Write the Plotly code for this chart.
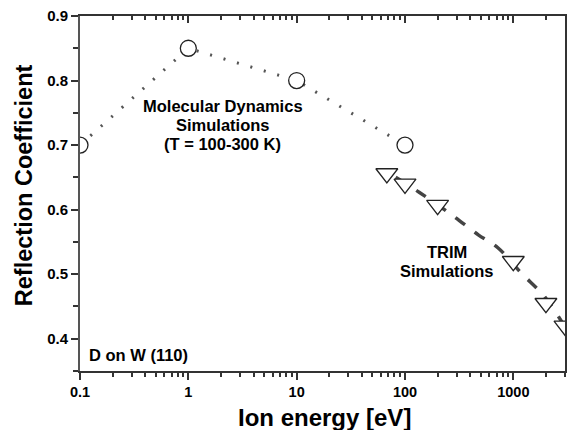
import math
import plotly.graph_objects as go

# MD simulations (open circles, dotted line)
md_energy = [0.1, 1, 10, 100]
md_refl = [0.70, 0.85, 0.80, 0.70]

# TRIM simulations (open down-triangles)
trim_energy = [68, 100, 200, 1000, 2000, 3000]
trim_refl = [0.656, 0.640, 0.607, 0.520, 0.455, 0.420]

# TRIM fit curve (dashed)
fit_energy = [82, 135, 270, 475, 720, 1180, 1950, 3000]
fit_refl = [0.650, 0.627, 0.592, 0.561, 0.541, 0.502, 0.465, 0.418]

x_ticks = [0.1, 1, 10, 100, 1000]
x_ticklabels = ["0.1", "1", "10", "100", "1000"]
y_ticks = [0.4, 0.5, 0.6, 0.7, 0.8, 0.9]
y_ticklabels = ["0.4", "0.5", "0.6", "0.7", "0.8", "0.9"]

x_minor = [m * 10 ** d for d in range(-1, 4) for m in range(2, 10) if m * 10 ** d <= 3000]
y_minor = [0.35, 0.45, 0.55, 0.65, 0.75, 0.85]

md_label = ["Molecular Dynamics", "Simulations", "(T = 100-300 K)"]
trim_label = ["TRIM", "Simulations"]
system_label = "D on W (110)"
x_title = "Ion energy [eV]"
y_title = "Reflection Coefficient"

FONT = "Liberation Sans, Arial, sans-serif"
AX = "#333333"
XR = [-1, math.log10(3000)]
YR = [0.35, 0.9]

fig = go.Figure()

fig.add_trace(go.Scatter(
    x=md_energy, y=md_refl, mode="lines",
    line=dict(color="#555555", width=3, dash="2px,12px"),
    showlegend=False, hoverinfo="skip"))
fig.add_trace(go.Scatter(
    x=md_energy, y=md_refl, mode="markers",
    marker=dict(symbol="circle", size=16, color="white",
                line=dict(color="#222222", width=1.3)),
    showlegend=False))
fig.add_trace(go.Scatter(
    x=fit_energy, y=fit_refl, mode="lines", line_shape="spline",
    line=dict(color="#444444", width=3.5, dash="12px,12px"),
    showlegend=False, hoverinfo="skip"))
fig.add_trace(go.Scatter(
    x=trim_energy, y=trim_refl, mode="markers",
    marker=dict(symbol="triangle-down", size=19, color="white",
                line=dict(color="#222222", width=1.3)),
    showlegend=False))
# dummy trace for the mirrored axes
fig.add_trace(go.Scatter(x=[1], y=[0.5], xaxis="x2", yaxis="y2", mode="markers",
                         marker=dict(opacity=0), showlegend=False, hoverinfo="skip"))

annots = []
for i, line in enumerate(md_label):
    annots.append(dict(x=0.320, y=[0.7606, 0.7311, 0.7017][i], xref="x", yref="y",
                       showarrow=False, text=line, xanchor="center", yanchor="middle",
                       font=dict(size=16.5, weight="bold")))
for i, line in enumerate(trim_label):
    annots.append(dict(x=2.388, y=[0.5344, 0.5049][i], xref="x", yref="y",
                       showarrow=False, text=line, xanchor="center", yanchor="middle",
                       font=dict(size=16.5, weight="bold")))
annots.append(dict(x=-0.935, y=0.3748, xref="x", yref="y", showarrow=False,
                   xanchor="left", yanchor="middle", text=system_label,
                   font=dict(size=16.5, weight="bold")))
annots.append(dict(x=0.505, y=-0.131, xref="paper", yref="paper", showarrow=False,
                   xanchor="center", yanchor="middle", text=x_title,
                   font=dict(size=24, weight="bold")))
annots.append(dict(x=-0.115, y=0.524, xref="paper", yref="paper", showarrow=False,
                   xanchor="center", yanchor="middle", text=y_title, textangle=-90,
                   font=dict(size=23.5, weight="bold")))

fig.update_layout(
    width=567, height=430,
    margin=dict(l=80, r=2, t=16, b=59),
    paper_bgcolor="white", plot_bgcolor="white",
    font=dict(family=FONT, color="black"),
    xaxis=dict(
        type="log", range=XR, automargin=False,
        tickmode="array", tickvals=x_ticks, ticktext=x_ticklabels,
        ticks="outside", ticklen=7, tickwidth=2, tickcolor=AX,
        minor=dict(tickmode="array", tickvals=x_minor, ticks="outside",
                   ticklen=4, tickwidth=1.5, tickcolor=AX, showgrid=False),
        showline=True, linewidth=2, linecolor=AX, showgrid=False, zeroline=False,
        tickfont=dict(size=14.5, weight="bold"),
    ),
    xaxis2=dict(
        type="log", range=XR, overlaying="x", side="top", anchor="y2", automargin=False,
        tickmode="array", tickvals=x_ticks, ticktext=x_ticklabels,
        ticks="inside", ticklen=7, tickwidth=1.5, tickcolor=AX,
        minor=dict(tickmode="array", tickvals=x_minor, ticks="inside",
                   ticklen=4, tickwidth=1.5, tickcolor=AX, showgrid=False),
        showticklabels=False, showline=True, linewidth=2, linecolor=AX,
        showgrid=False, zeroline=False,
    ),
    yaxis=dict(
        range=YR, automargin=False,
        tickmode="array", tickvals=y_ticks, ticktext=y_ticklabels,
        ticks="outside", ticklen=7, tickwidth=2, tickcolor=AX,
        minor=dict(tickmode="array", tickvals=y_minor, ticks="outside",
                   ticklen=5, tickwidth=1.5, tickcolor=AX, showgrid=False),
        showline=True, linewidth=2, linecolor="#555555", showgrid=False, zeroline=False,
        tickfont=dict(size=15, weight="bold"),
    ),
    yaxis2=dict(
        range=YR, overlaying="y", side="right", anchor="x2", automargin=False,
        showticklabels=False, ticks="", showline=True, linewidth=2, linecolor=AX,
        showgrid=False, zeroline=False,
    ),
    annotations=annots,
)

fig.write_html("out.html", config={"displayModeBar": False},
               post_script="document.body.style.margin='0';document.body.style.overflow='hidden';")
